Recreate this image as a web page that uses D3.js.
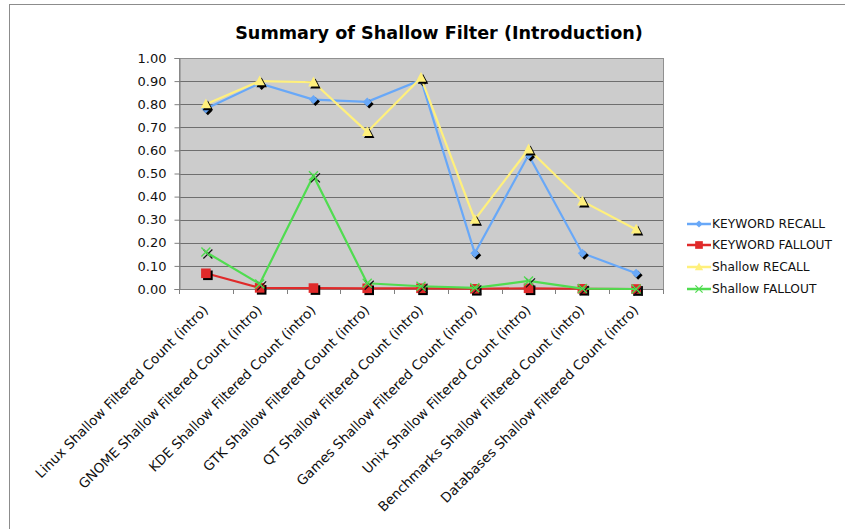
<!DOCTYPE html>
<html>
<head>
<meta charset="utf-8">
<script src="https://cdn.jsdelivr.net/npm/d3@7"></script>
<style>
  body { margin: 0; background: #fff; }
  svg { display: block; font-family: "DejaVu Sans", Verdana, sans-serif; }
</style>
</head>
<body>
<svg id="chart" width="845" height="529"></svg>
<script>
// Data
const categories = [
  "Linux Shallow Filtered Count (intro)",
  "GNOME Shallow Filtered Count (intro)",
  "KDE Shallow Filtered Count (intro)",
  "GTK Shallow Filtered Count (intro)",
  "QT Shallow Filtered Count (intro)",
  "Games Shallow Filtered Count (intro)",
  "Unix Shallow Filtered Count (intro)",
  "Benchmarks Shallow Filtered Count (intro)",
  "Databases Shallow Filtered Count (intro)"
];
const keywordRecall  = [0.78, 0.89, 0.82, 0.81, 0.905, 0.155, 0.58, 0.155, 0.068];
const keywordFallout = [0.068, 0.005, 0.004, 0.003, 0.003, 0.001, 0.003, 0.001, 0.0];
const shallowRecall  = [0.80, 0.90, 0.895, 0.68, 0.915, 0.30, 0.605, 0.38, 0.258];
const shallowFallout = [0.16, 0.022, 0.49, 0.025, 0.012, 0.005, 0.035, 0.002, 0.0];
const seriesNames = ["KEYWORD RECALL", "KEYWORD FALLOUT", "Shallow RECALL", "Shallow FALLOUT"];
const yTickValues = [0, 0.1, 0.2, 0.3, 0.4, 0.5, 0.6, 0.7, 0.8, 0.9, 1.0];
const titleText = "Summary of Shallow Filter (Introduction)";

const series = [
  { name: seriesNames[0], values: keywordRecall,  color: "#68a8f8", marker: "diamond" },
  { name: seriesNames[1], values: keywordFallout, color: "#e02a2a", marker: "square" },
  { name: seriesNames[2], values: shallowRecall,  color: "#fff07c", marker: "triangle" },
  { name: seriesNames[3], values: shallowFallout, color: "#50dc50", marker: "x" }
];

const svg = d3.select("#chart");
const W = 845, H = 529;
const plot = { left: 179, right: 663, top: 58, bottom: 289 };

// Outer chart frame
svg.append("rect")
  .attr("x", 9.5).attr("y", 4.5)
  .attr("width", W + 20).attr("height", H + 20)
  .attr("fill", "#fff").attr("stroke", "#8c8c8c").attr("stroke-width", 1);

const x = d3.scaleBand().domain(categories).range([plot.left, plot.right]);
const y = d3.scaleLinear().domain([0, 1]).range([plot.bottom, plot.top]);
const cx = c => x(c) + x.bandwidth() / 2;

// Plot background
svg.append("rect")
  .attr("x", plot.left + 0.5).attr("y", plot.top + 0.5)
  .attr("width", plot.right - plot.left).attr("height", plot.bottom - plot.top)
  .attr("fill", "#cccccc").attr("stroke", "#909090").attr("stroke-width", 1);

// Gridlines
svg.append("g")
  .selectAll("line")
  .data(yTickValues.slice(1, -1))
  .join("line")
  .attr("x1", plot.left).attr("x2", plot.right)
  .attr("y1", d => Math.round(y(d)) + 0.5).attr("y2", d => Math.round(y(d)) + 0.5)
  .attr("stroke", "#6e6e6e").attr("stroke-width", 1.2);

// Y axis
const yAxis = svg.append("g")
  .attr("transform", `translate(${plot.left + 0.5},0)`)
  .call(d3.axisLeft(y).tickValues(yTickValues).tickFormat(d3.format(".2f")).tickSize(5).tickPadding(8));
yAxis.select(".domain").attr("stroke", "#808080");
yAxis.selectAll(".tick line").attr("stroke", "#808080");
yAxis.selectAll(".tick text")
  .attr("fill", "#111").style("font-size", "13px")
  .style("font-family", "\"DejaVu Sans\", Verdana, sans-serif");

// X axis: tick marks at category boundaries
const xAxisG = svg.append("g");
xAxisG.append("line")
  .attr("x1", plot.left).attr("x2", plot.right + 0.5)
  .attr("y1", plot.bottom + 0.5).attr("y2", plot.bottom + 0.5)
  .attr("stroke", "#808080");
const boundaries = categories.map(c => x(c)).concat([plot.right]);
xAxisG.selectAll("line.tk")
  .data(boundaries)
  .join("line").attr("class", "tk")
  .attr("x1", d => Math.round(d) + 0.5).attr("x2", d => Math.round(d) + 0.5)
  .attr("y1", plot.bottom).attr("y2", plot.bottom + 5)
  .attr("stroke", "#808080");

// X axis labels, rotated
xAxisG.selectAll("text")
  .data(categories)
  .join("text")
  .attr("transform", d => `translate(${cx(d) + 3},${plot.bottom + 22}) rotate(-45)`)
  .attr("text-anchor", "end")
  .attr("fill", "#111")
  .style("font-size", "13.5px")
  .text(d => d);

// Marker shapes
function markerPath(type, s) {
  switch (type) {
    case "diamond":  return `M0,${-s}L${s},0L0,${s}L${-s},0Z`;
    case "square":   return `M${-s},${-s}H${s}V${s}H${-s}Z`;
    case "triangle": return `M0,${-s * 1.1}L${s},${s * 0.8}L${-s},${s * 0.8}Z`;
    case "x":        return `M${-s},${-s}L${s},${s}M${-s},${s}L${s},${-s}`;
  }
}
const markerSize = { diamond: 4.5, square: 4.8, triangle: 5.2, x: 4.5 };

const line = d3.line().x((d, i) => cx(categories[i])).y(d => y(d));

series.forEach(s => {
  const g = svg.append("g");
  g.append("path")
    .attr("d", line(s.values))
    .attr("fill", "none").attr("stroke", s.color).attr("stroke-width", 2.2);
  const pts = s.values.map((v, i) => ({ x: cx(categories[i]), y: y(v) }));
  const isX = s.marker === "x";
  // drop shadow
  g.selectAll("path.sh").data(pts).join("path").attr("class", "sh")
    .attr("transform", d => `translate(${d.x + 2},${d.y + 2})`)
    .attr("d", markerPath(s.marker, markerSize[s.marker]))
    .attr("fill", isX ? "none" : "#000")
    .attr("stroke", isX ? "#111" : "none").attr("stroke-width", 1.2);
  g.selectAll("path.mk").data(pts).join("path").attr("class", "mk")
    .attr("transform", d => `translate(${d.x},${d.y})`)
    .attr("d", markerPath(s.marker, markerSize[s.marker]))
    .attr("fill", isX ? "none" : s.color)
    .attr("stroke", isX ? s.color : "none").attr("stroke-width", 1.4);
});

// Legend
const legendY = [224, 245, 267, 289];
const legend = svg.append("g");
series.forEach((s, i) => {
  const ly = legendY[i];
  legend.append("line")
    .attr("x1", 687).attr("x2", 711).attr("y1", ly).attr("y2", ly)
    .attr("stroke", s.color).attr("stroke-width", 2.5);
  const isX = s.marker === "x";
  legend.append("path")
    .attr("transform", `translate(699,${ly})`)
    .attr("d", markerPath(s.marker, markerSize[s.marker] * 0.8))
    .attr("fill", isX ? "none" : s.color)
    .attr("stroke", isX ? s.color : "none").attr("stroke-width", 1.2);
  legend.append("text")
    .attr("x", 712).attr("y", ly).attr("dy", "0.36em")
    .attr("fill", "#111").style("font-size", "12.2px")
    .text(s.name);
});

// Title
svg.append("text")
  .attr("x", (235 + 643) / 2).attr("y", 39)
  .attr("text-anchor", "middle")
  .attr("fill", "#000")
  .style("font-size", "17.6px").style("font-weight", "bold")
  .text(titleText);
</script>
</body>
</html>
